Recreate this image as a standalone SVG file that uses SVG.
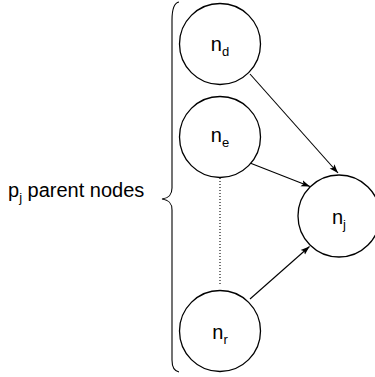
<svg xmlns="http://www.w3.org/2000/svg" width="375" height="377" viewBox="0 0 375 377">
<defs>
<style>
.node circle{fill:#fff;stroke:#000;stroke-width:1.3}
.lbl{font-family:"Liberation Sans",Arial,sans-serif;font-size:20px;fill:#000}
.sub{font-size:13px}
.edge{stroke:#000;stroke-width:1.1;fill:none}
</style>
<marker id="arr" markerWidth="10" markerHeight="8" refX="9" refY="4" orient="auto" markerUnits="userSpaceOnUse">
<path d="M0,0.8 L9,4 L0,7.2 L2,4 Z" fill="#000"/>
</marker>
</defs>
<rect width="375" height="377" fill="#fff"/>
<g id="brace">
<path class="edge" d="M179,2 C174,3 172,8 172,20 L172,188 C172,195 169,198 162,199 C169,200 172,203 172,210 L172,360 C172,367 174,371 179,372"/>
<text class="lbl" x="8" y="197"><tspan>p</tspan><tspan class="sub" dy="5">j</tspan><tspan dy="-5"> parent nodes</tspan></text>
</g>
<g id="connectors">
<line class="edge" x1="250" y1="74" x2="338" y2="173" marker-end="url(#arr)"/>
<line class="edge" x1="250" y1="163" x2="310" y2="186.5" marker-end="url(#arr)"/>
<line class="edge" x1="250" y1="299" x2="309.5" y2="246.5" marker-end="url(#arr)"/>
<line class="edge" x1="220" y1="178" x2="220" y2="285" stroke-dasharray="1,2"/>
</g>
<g id="n_d" class="node"><circle cx="220" cy="44" r="40.5"/><text class="lbl" x="220" y="51" text-anchor="middle">n<tspan class="sub" dy="5">d</tspan></text></g>
<g id="n_e" class="node"><circle cx="220" cy="137" r="40.5"/><text class="lbl" x="220" y="141.5" text-anchor="middle">n<tspan class="sub" dy="5">e</tspan></text></g>
<g id="n_r" class="node"><circle cx="220" cy="331" r="40.5"/><text class="lbl" x="220" y="339" text-anchor="middle">n<tspan class="sub" dy="5">r</tspan></text></g>
<g id="n_j" class="node"><circle cx="339" cy="216" r="41"/><text class="lbl" x="339" y="224" text-anchor="middle">n<tspan class="sub" dy="5">j</tspan></text></g>
</svg>
